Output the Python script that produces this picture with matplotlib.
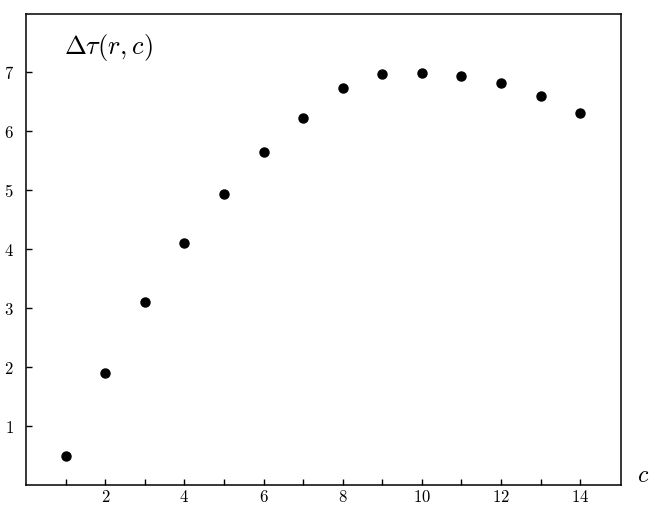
import matplotlib
matplotlib.use("Agg")
import matplotlib.pyplot as plt
from matplotlib.ticker import FixedLocator, FuncFormatter

c_values = [1, 2, 3, 4, 5, 6, 7, 8, 9, 10, 11, 12, 13, 14]
delta_tau = [0.50, 1.90, 3.10, 4.11, 4.94, 5.64, 6.23, 6.73, 6.97, 6.99,
             6.93, 6.81, 6.60, 6.31]
x_major = [2, 4, 6, 8, 10, 12, 14]
x_minor = [1, 3, 5, 7, 9, 11, 13]
y_major = [1, 2, 3, 4, 5, 6, 7]


def main():
    plt.rcParams["mathtext.fontset"] = "cm"
    plt.rcParams["font.family"] = "serif"
    plt.rcParams["font.serif"] = ["DejaVu Serif"]

    fig = plt.figure(figsize=(6.53, 5.09), dpi=100)
    ax = fig.add_axes([0.040, 0.047, 0.911, 0.925])
    ax.plot(c_values, delta_tau, "o", color="black", markersize=6.5)

    ax.set_xlim(0, 15.03)
    ax.set_ylim(0, 7.98)
    ax.xaxis.set_major_locator(FixedLocator(x_major))
    ax.xaxis.set_minor_locator(FixedLocator(x_minor))
    ax.yaxis.set_major_locator(FixedLocator(y_major))
    fmt = FuncFormatter(lambda v, pos: "$%d$" % v)
    ax.xaxis.set_major_formatter(fmt)
    ax.yaxis.set_major_formatter(fmt)
    ax.tick_params(which="both", direction="in", length=4, width=1,
                   labelsize=12, top=False, right=False)
    ax.tick_params(axis="x", pad=3)
    ax.tick_params(axis="y", pad=9)
    for sp in ax.spines.values():
        sp.set_linewidth(1.1)

    ax.text(0.064, 0.93, r"$\Delta\tau(r,c)$", transform=ax.transAxes,
            fontsize=19, ha="left", va="center")
    ax.text(1.037, 0.02, r"$c$", transform=ax.transAxes,
            fontsize=17, ha="center", va="center")

    fig.savefig("out.png", dpi=100)


if __name__ == "__main__":
    main()
